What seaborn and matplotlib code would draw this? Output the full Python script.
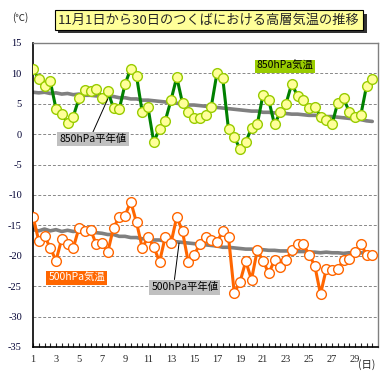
import numpy as np
import pandas as pd
import matplotlib
matplotlib.use("Agg")
import matplotlib.pyplot as plt
import matplotlib.patheffects as pe
import seaborn as sns

# half-day observation times (day 1 00 ... day 30 12)
days = np.arange(1, 31, 0.5)

t850 = [10.8, 9.0, 7.9, 8.7, 4.2, 3.4, 1.8, 2.9, 5.9, 7.2,
        7.1, 7.5, 6.0, 7.1, 4.3, 4.1, 8.2, 10.8, 9.6, 3.6,
        4.4, -1.3, 0.9, 2.2, 5.6, 9.4, 5.1, 3.7, 2.7, 2.7,
        3.1, 4.5, 10.1, 9.2, 0.8, -0.4, -2.5, -1.3, 1.0, 1.6,
        6.5, 5.6, 1.6, 3.6, 5.0, 8.3, 6.3, 5.6, 4.3, 4.5,
        2.9, 2.3, 1.6, 5.2, 5.9, 3.7, 2.9, 3.1, 7.9, 9.0]

n850 = [6.9, 6.8, 6.9, 6.7, 6.8, 6.6, 6.7, 6.5, 6.6, 6.4,
        6.4, 6.3, 6.3, 6.2, 6.2, 6.0, 6.0, 5.8, 5.8, 5.6,
        5.6, 5.5, 5.4, 5.3, 5.2, 5.1, 4.9, 4.8, 4.8, 4.7,
        4.6, 4.5, 4.4, 4.3, 4.2, 4.1, 4.0, 3.9, 3.8, 3.8,
        3.6, 3.6, 3.5, 3.5, 3.4, 3.3, 3.3, 3.2, 3.1, 3.1,
        3.0, 2.9, 2.9, 2.8, 2.7, 2.6, 2.5, 2.4, 2.2, 2.1]

t500 = [-13.6, -17.5, -16.7, -18.7, -20.8, -17.2, -18.0, -18.7, -15.4, -16.0,
        -15.7, -18.1, -17.9, -19.4, -15.4, -13.6, -13.4, -11.1, -14.5, -18.7,
        -16.9, -18.5, -21.0, -16.9, -17.9, -13.6, -16.0, -21.0, -19.9, -18.1,
        -16.9, -17.4, -17.7, -16.0, -16.9, -26.1, -24.3, -20.9, -23.9, -19.1,
        -20.8, -22.9, -20.7, -21.8, -20.7, -19.1, -18.1, -18.1, -19.8, -21.6,
        -26.3, -22.2, -22.3, -22.2, -20.7, -20.5, -19.4, -18.1, -19.8, -19.9]

n500 = [-15.7, -15.9, -15.6, -15.9, -15.7, -16.0, -15.8, -16.0, -15.9, -16.1,
        -16.0, -16.2, -16.3, -16.5, -16.5, -16.8, -16.8, -17.0, -17.0, -17.2,
        -17.2, -17.4, -17.4, -17.6, -17.6, -17.7, -17.8, -17.9, -18.0, -18.1,
        -18.2, -18.3, -18.4, -18.6, -18.6, -18.7, -18.8, -18.9, -18.9, -19.0,
        -19.0, -19.1, -19.1, -19.2, -19.2, -19.2, -19.3, -19.3, -19.4, -19.4,
        -19.5, -19.4, -19.5, -19.5, -19.6, -19.5, -19.6, -19.5, -19.6, -19.6]

xtick_labels = [str(d) for d in range(1, 30, 2)]

df = pd.DataFrame({"day": days, "t850": t850, "n850": n850,
                   "t500": t500, "n500": n500})

sns.set_style("white")
plt.rcParams["font.family"] = ["Noto Sans CJK JP", "DejaVu Sans"]

fig = plt.figure(figsize=(3.89, 3.89), dpi=100)
ax = fig.add_axes([33 / 389, 42 / 389, 345 / 389, 304 / 389])

# normals first (underneath)
sns.lineplot(data=df, x="day", y="n850", color="#808080", linewidth=2.6, ax=ax, zorder=2)
sns.lineplot(data=df, x="day", y="n500", color="#808080", linewidth=2.6, ax=ax, zorder=2)

sns.lineplot(data=df, x="day", y="t850", color="#008000", linewidth=2.2,
             marker="o", markersize=7, markerfacecolor="#ffff99",
             markeredgecolor="#99cc00", markeredgewidth=1.0, ax=ax, zorder=3)
sns.lineplot(data=df, x="day", y="t500", color="#ff6600", linewidth=2.2,
             marker="o", markersize=7, markerfacecolor="white",
             markeredgecolor="#ff6600", markeredgewidth=1.0, ax=ax, zorder=3)

ax.set_xlim(1, 31)
ax.set_ylim(-35, 15)
ax.set_xlabel("")
ax.set_ylabel("")

ax.set_yticks(range(-35, 16, 5))
ax.set_yticklabels([str(v) for v in range(-35, 16, 5)],
                   fontsize=7.5, family="Liberation Serif", color="#000033")
ax.set_xticks(range(1, 30, 2))
ax.set_xticklabels(xtick_labels, fontsize=7.5, family="Liberation Serif")
ax.set_xticks(days, minor=True)
ax.tick_params(axis="x", which="both", direction="in", length=3, width=0.8,
               bottom=True, pad=6)
ax.tick_params(axis="y", length=0, pad=8)

for y in range(-30, 15, 5):
    ax.axhline(y, color="#888888", linestyle=(0, (3, 2)), linewidth=0.7, zorder=1)

for side in ("top", "right"):
    ax.spines[side].set_color("#808080")
    ax.spines[side].set_linewidth(1.0)
for side in ("left", "bottom"):
    ax.spines[side].set_color("black")
    ax.spines[side].set_linewidth(1.2)

lab_kw = dict(fontsize=7.5, ha="center", va="center", zorder=5)
ax.text(22.9, 11.2, "850hPa気温", color="black",
        bbox=dict(boxstyle="square,pad=0.15", fc="#99cc00", ec="none"), **lab_kw)
ax.text(6.2, -0.8, "850hPa平年値", color="black",
        bbox=dict(boxstyle="square,pad=0.2", fc="#c0c0c0", ec="none"), **lab_kw)
ax.text(4.8, -23.6, "500hPa気温", color="white",
        bbox=dict(boxstyle="square,pad=0.2", fc="#ff6600", ec="none"), **lab_kw)
ax.text(14.2, -25.2, "500hPa平年値", color="black",
        bbox=dict(boxstyle="square,pad=0.2", fc="#c0c0c0", ec="none"), **lab_kw)

ax.plot([6.2, 7.5], [0.3, 5.8], color="black", linewidth=0.7, zorder=4)
ax.plot([13.3, 13.7], [-23.9, -17.9], color="black", linewidth=0.7, zorder=4)

title = fig.text(209 / 389, 1 - 20 / 389, "11月1日から30日のつくばにおける高層気温の推移",
                 fontsize=9.5, ha="center", va="center",
                 bbox=dict(boxstyle="square,pad=0.25", fc="#ffff99", ec="black", lw=0.8))
title.get_bbox_patch().set_path_effects(
    [pe.withSimplePatchShadow(offset=(2.5, -2.5), shadow_rgbFace="#333333", alpha=1.0)])

fig.text(20 / 389, 1 - 18 / 389, "(℃)", fontsize=7, ha="center", va="center")
fig.text(367 / 389, 1 - 365 / 389, "(日)", fontsize=7.5, ha="center", va="center")

fig.savefig("out.png", dpi=100)
